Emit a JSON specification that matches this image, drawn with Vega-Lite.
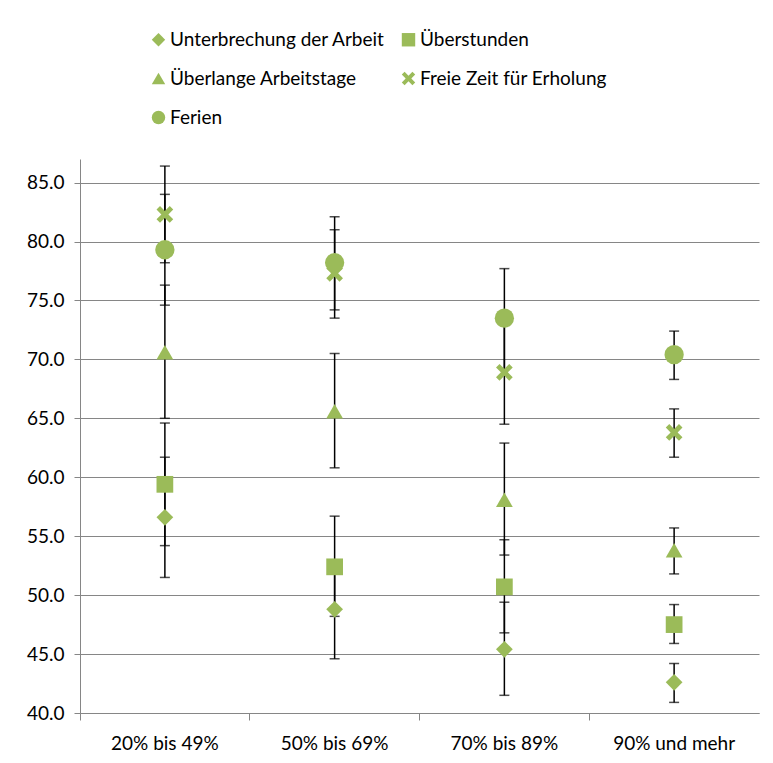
{
  "$schema": "https://vega.github.io/schema/vega-lite/v6.json",
  "width": 679,
  "height": 554,
  "autosize": {"type": "none"},
  "padding": {"left": 80, "top": 159, "right": 14, "bottom": 50},
  "background": "white",
  "config": {
    "view": {"stroke": null},
    "font": "Lato",
    "axis": {"labelFont": "Lato", "labelFontSize": 19, "labelColor": "#000000", "domainColor": "#868686", "tickColor": "#868686", "gridColor": "#868686", "gridWidth": 1, "domainWidth": 1, "tickWidth": 1},
    "legend": {"labelFont": "Lato", "labelFontSize": 19, "labelColor": "#000000"}
  },
  "data": {
    "values": [
      {"gruppe": "20% bis 49%", "serie": "Unterbrechung der Arbeit", "wert": 56.6, "lo": 51.5, "hi": 61.7},
      {"gruppe": "20% bis 49%", "serie": "Überstunden", "wert": 59.4, "lo": 54.2, "hi": 64.6},
      {"gruppe": "20% bis 49%", "serie": "Überlange Arbeitstage", "wert": 70.6, "lo": 65.0, "hi": 76.3},
      {"gruppe": "20% bis 49%", "serie": "Freie Zeit für Erholung", "wert": 82.3, "lo": 78.2, "hi": 86.4},
      {"gruppe": "20% bis 49%", "serie": "Ferien", "wert": 79.3, "lo": 74.6, "hi": 84.0},
      {"gruppe": "50% bis 69%", "serie": "Unterbrechung der Arbeit", "wert": 48.8, "lo": 44.6, "hi": 53.0},
      {"gruppe": "50% bis 69%", "serie": "Überstunden", "wert": 52.4, "lo": 48.2, "hi": 56.7},
      {"gruppe": "50% bis 69%", "serie": "Überlange Arbeitstage", "wert": 65.6, "lo": 60.8, "hi": 70.5},
      {"gruppe": "50% bis 69%", "serie": "Freie Zeit für Erholung", "wert": 77.3, "lo": 73.5, "hi": 81.0},
      {"gruppe": "50% bis 69%", "serie": "Ferien", "wert": 78.2, "lo": 74.2, "hi": 82.1},
      {"gruppe": "70% bis 89%", "serie": "Unterbrechung der Arbeit", "wert": 45.4, "lo": 41.5, "hi": 49.4},
      {"gruppe": "70% bis 89%", "serie": "Überstunden", "wert": 50.7, "lo": 46.8, "hi": 54.7},
      {"gruppe": "70% bis 89%", "serie": "Überlange Arbeitstage", "wert": 58.1, "lo": 53.4, "hi": 62.9},
      {"gruppe": "70% bis 89%", "serie": "Freie Zeit für Erholung", "wert": 68.9, "lo": 64.5, "hi": 73.4},
      {"gruppe": "70% bis 89%", "serie": "Ferien", "wert": 73.5, "lo": 69.2, "hi": 77.7},
      {"gruppe": "90% und mehr", "serie": "Unterbrechung der Arbeit", "wert": 42.6, "lo": 40.9, "hi": 44.2},
      {"gruppe": "90% und mehr", "serie": "Überstunden", "wert": 47.5, "lo": 45.9, "hi": 49.2},
      {"gruppe": "90% und mehr", "serie": "Überlange Arbeitstage", "wert": 53.8, "lo": 51.8, "hi": 55.7},
      {"gruppe": "90% und mehr", "serie": "Freie Zeit für Erholung", "wert": 63.8, "lo": 61.7, "hi": 65.8},
      {"gruppe": "90% und mehr", "serie": "Ferien", "wert": 70.4, "lo": 68.3, "hi": 72.4}
    ]
  },
  "encoding": {
    "x": {
      "field": "gruppe", "type": "nominal", "sort": null,
      "scale": {"paddingInner": 0, "paddingOuter": 0},
      "axis": {"title": null, "labelAngle": 0, "bandPosition": 0, "tickSize": 7, "labelPadding": 14, "grid": false}
    }
  },
  "layer": [
    {
      "mark": {"type": "rule", "color": "#000000", "strokeWidth": 1.5},
      "encoding": {
        "y": {"field": "lo", "type": "quantitative", "scale": {"domain": [40, 87], "nice": false, "zero": false},
          "axis": {"title": null, "values": [40, 45, 50, 55, 60, 65, 70, 75, 80, 85], "format": ".1f", "tickSize": 6, "labelPadding": 10, "grid": true}},
        "y2": {"field": "hi"}
      }
    },
    {
      "mark": {"type": "tick", "color": "#000000", "size": 10, "thickness": 1.5},
      "encoding": {"y": {"field": "lo", "type": "quantitative"}}
    },
    {
      "mark": {"type": "tick", "color": "#000000", "size": 10, "thickness": 1.5},
      "encoding": {"y": {"field": "hi", "type": "quantitative"}}
    },
    {
      "transform": [{"filter": "datum.serie !== 'Ferien'"}],
      "mark": {"type": "point", "filled": true, "color": "#9BBB59", "opacity": 1, "size": 280},
      "encoding": {
        "y": {"field": "wert", "type": "quantitative"},
        "shape": {
          "field": "serie", "type": "nominal",
          "scale": {
            "domain": ["Unterbrechung der Arbeit", "Überstunden", "Überlange Arbeitstage", "Freie Zeit für Erholung", "Ferien"],
            "range": ["diamond", "square", "triangle-up", "M-1,-0.58L-0.58,-1L0,-0.42L0.58,-1L1,-0.58L0.42,0L1,0.58L0.58,1L0,0.42L-0.58,1L-1,0.58L-0.42,0Z", "circle"]
          },
          "legend": {"title": null, "orient": "none", "direction": "horizontal", "legendX": 69, "legendY": -129, "columns": 2, "columnPadding": 14, "rowPadding": 19, "symbolSize": 180, "symbolFillColor": "#9BBB59", "symbolStrokeWidth": 0, "labelOffset": 2, "labelLimit": 400, "symbolOpacity": 1}
        }
      }
    },
    {
      "transform": [{"filter": "datum.serie === 'Ferien'"}],
      "mark": {"type": "point", "filled": true, "color": "#9BBB59", "opacity": 1, "size": 372},
      "encoding": {
        "y": {"field": "wert", "type": "quantitative"},
        "shape": {"field": "serie", "type": "nominal"}
      }
    }
  ]
}
